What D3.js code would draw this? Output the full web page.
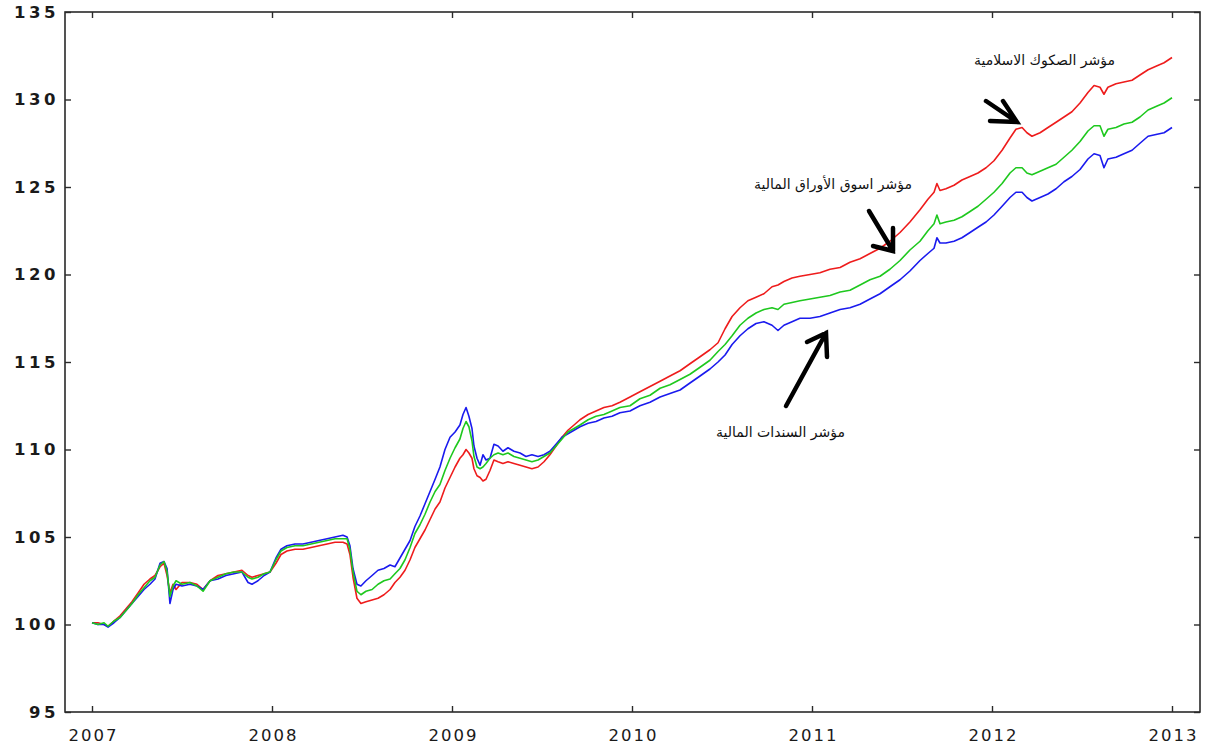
<!DOCTYPE html>
<html><head><meta charset="utf-8">
<script src="https://cdn.jsdelivr.net/npm/d3@7"></script>
<style>body{margin:0;background:#fff}svg{display:block}</style>
</head><body><svg id="c" width="1208" height="747"></svg>
<script>
// decimal years
const dates = [2007.000,2007.033,2007.067,2007.089,2007.122,2007.156,2007.189,2007.222,2007.256,2007.289,2007.322,2007.350,2007.378,2007.400,2007.417,2007.433,2007.450,2007.467,2007.500,2007.544,2007.583,2007.617,2007.656,2007.700,2007.744,2007.789,2007.833,2007.867,2007.889,2007.922,2007.956,2007.989,2008.022,2008.050,2008.083,2008.128,2008.172,2008.217,2008.261,2008.306,2008.350,2008.394,2008.417,2008.433,2008.450,2008.472,2008.494,2008.522,2008.556,2008.589,2008.622,2008.656,2008.683,2008.711,2008.739,2008.767,2008.794,2008.822,2008.850,2008.878,2008.906,2008.933,2008.961,2008.989,2009.017,2009.044,2009.061,2009.078,2009.094,2009.111,2009.122,2009.139,2009.156,2009.172,2009.189,2009.211,2009.233,2009.256,2009.283,2009.311,2009.344,2009.378,2009.411,2009.444,2009.478,2009.511,2009.544,2009.578,2009.611,2009.644,2009.678,2009.711,2009.756,2009.800,2009.844,2009.889,2009.933,2009.989,2010.044,2010.100,2010.156,2010.211,2010.267,2010.322,2010.378,2010.433,2010.478,2010.517,2010.556,2010.600,2010.644,2010.689,2010.733,2010.778,2010.811,2010.844,2010.889,2010.933,2010.989,2011.044,2011.100,2011.156,2011.211,2011.267,2011.322,2011.378,2011.433,2011.489,2011.544,2011.600,2011.644,2011.678,2011.694,2011.711,2011.744,2011.789,2011.833,2011.878,2011.922,2011.967,2012.011,2012.056,2012.100,2012.133,2012.167,2012.194,2012.222,2012.267,2012.311,2012.356,2012.400,2012.444,2012.489,2012.533,2012.567,2012.600,2012.622,2012.644,2012.689,2012.733,2012.778,2012.822,2012.867,2012.911,2012.956,2013.000];

// مؤشر الصكوك الاسلامية (red)
const sukuk = [100.1,100.1,100.0,99.9,100.2,100.5,100.9,101.3,101.8,102.3,102.6,102.8,103.3,103.5,102.8,101.8,102.3,102.0,102.4,102.4,102.3,102.0,102.5,102.8,102.9,103.0,103.1,102.8,102.7,102.8,102.9,103.0,103.5,104.0,104.2,104.3,104.3,104.4,104.5,104.6,104.7,104.7,104.6,104.0,102.7,101.5,101.2,101.3,101.4,101.5,101.7,102.0,102.4,102.7,103.1,103.7,104.4,104.9,105.4,106.0,106.6,107.0,107.8,108.4,109.0,109.5,109.7,110.0,109.8,109.5,108.9,108.5,108.4,108.2,108.3,108.8,109.4,109.3,109.2,109.3,109.2,109.1,109.0,108.9,109.0,109.3,109.7,110.2,110.7,111.1,111.4,111.7,112.0,112.2,112.4,112.5,112.7,113.0,113.3,113.6,113.9,114.2,114.5,114.9,115.3,115.7,116.1,116.9,117.6,118.1,118.5,118.7,118.9,119.3,119.4,119.6,119.8,119.9,120.0,120.1,120.3,120.4,120.7,120.9,121.2,121.5,121.9,122.4,123.0,123.7,124.3,124.7,125.2,124.8,124.9,125.1,125.4,125.6,125.8,126.1,126.5,127.1,127.8,128.3,128.4,128.1,127.9,128.1,128.4,128.7,129.0,129.3,129.8,130.4,130.8,130.7,130.3,130.7,130.9,131.0,131.1,131.4,131.7,131.9,132.1,132.4];

// مؤشر اسوق الأوراق المالية (green)
const market = [100.1,100.0,100.1,99.9,100.2,100.4,100.8,101.2,101.7,102.1,102.5,102.7,103.4,103.6,103.0,101.6,102.2,102.5,102.3,102.4,102.2,101.9,102.5,102.7,102.9,103.0,103.0,102.7,102.6,102.7,102.9,103.0,103.7,104.2,104.4,104.5,104.5,104.6,104.7,104.8,104.9,104.9,104.9,104.3,103.0,101.9,101.7,101.9,102.0,102.3,102.5,102.6,102.9,103.2,103.7,104.4,105.2,105.7,106.3,107.0,107.6,108.0,108.8,109.5,110.1,110.6,111.2,111.6,111.3,110.5,109.6,109.0,108.9,109.0,109.2,109.5,109.7,109.8,109.7,109.8,109.6,109.5,109.4,109.3,109.4,109.6,109.8,110.2,110.6,111.0,111.2,111.4,111.7,111.9,112.0,112.2,112.4,112.5,112.9,113.1,113.5,113.7,114.0,114.3,114.7,115.1,115.6,116.0,116.5,117.1,117.5,117.8,118.0,118.1,118.0,118.3,118.4,118.5,118.6,118.7,118.8,119.0,119.1,119.4,119.7,119.9,120.3,120.8,121.4,121.9,122.5,122.9,123.4,122.9,123.0,123.1,123.3,123.6,123.9,124.3,124.7,125.2,125.8,126.1,126.1,125.8,125.7,125.9,126.1,126.3,126.7,127.1,127.6,128.2,128.5,128.5,127.9,128.3,128.4,128.6,128.7,129.0,129.4,129.6,129.8,130.1];

// مؤشر السندات المالية (blue)
const bonds = [100.1,100.0,100.0,99.85,100.1,100.4,100.8,101.2,101.6,102.0,102.3,102.6,103.5,103.6,103.2,101.2,102.0,102.3,102.2,102.3,102.2,102.0,102.5,102.6,102.8,102.9,103.0,102.4,102.3,102.5,102.8,103.0,103.8,104.3,104.5,104.6,104.6,104.7,104.8,104.9,105.0,105.1,105.0,104.5,103.2,102.3,102.2,102.5,102.8,103.1,103.2,103.4,103.3,103.8,104.3,104.8,105.6,106.2,106.9,107.6,108.3,109.0,110.0,110.7,111.0,111.4,112.0,112.4,111.9,111.2,110.2,109.5,109.1,109.7,109.4,109.5,110.3,110.2,109.9,110.1,109.9,109.8,109.6,109.7,109.6,109.7,109.9,110.3,110.7,110.9,111.1,111.3,111.5,111.6,111.8,111.9,112.1,112.2,112.5,112.7,113.0,113.2,113.4,113.8,114.2,114.6,115.0,115.4,116.0,116.5,116.9,117.2,117.3,117.1,116.8,117.1,117.3,117.5,117.5,117.6,117.8,118.0,118.1,118.3,118.6,118.9,119.3,119.7,120.2,120.8,121.2,121.5,122.1,121.8,121.8,121.9,122.1,122.4,122.7,123.0,123.4,123.9,124.4,124.7,124.7,124.4,124.2,124.4,124.6,124.9,125.3,125.6,126.0,126.6,126.9,126.8,126.1,126.6,126.7,126.9,127.1,127.5,127.9,128.0,128.1,128.4];

const yearTicks = [2007,2008,2009,2010,2011,2012,2013];
const valueTicks = [95,100,105,110,115,120,125,130,135];

const labels = ["مؤشر الصكوك الاسلامية","مؤشر اسوق الأوراق المالية","مؤشر السندات المالية"];
const colors = {sukuk:"#ee1c1c", market:"#1ec81e", bonds:"#1a1aee"};

const svg = d3.select("#c");
const L=65, R=1200, T=12, B=712;
const x = d3.scaleLinear().domain([2007,2013]).range([92,1172]);
const y = d3.scaleLinear().domain([95,135]).range([B,T]);

// lines
const line = d3.line().x((d,i)=>x(dates[i])).y(d=>y(d));
[["sukuk",sukuk],["bonds",bonds],["market",market]].forEach(([k,arr])=>{
  svg.append("path").datum(arr).attr("d",line)
    .attr("fill","none").attr("stroke",colors[k]).attr("stroke-width",1.6)
    .attr("stroke-linejoin","round");
});

// frame
svg.append("rect").attr("x",L).attr("y",T).attr("width",R-L).attr("height",B-T)
  .attr("fill","none").attr("stroke","#2a2a2a").attr("stroke-width",1.6);

// axes with inward ticks
const axB = d3.axisBottom(x).tickValues(yearTicks).tickSize(-6).tickPadding(14).tickFormat(d3.format("d"));
const gB = svg.append("g").attr("transform",`translate(0,${B})`).call(axB);
const axT = d3.axisTop(x).tickValues(yearTicks).tickSize(-6).tickFormat("");
const gT = svg.append("g").attr("transform",`translate(0,${T})`).call(axT);
const axL = d3.axisLeft(y).tickValues(valueTicks).tickSize(-6).tickPadding(14);
const gL = svg.append("g").attr("transform",`translate(${L},0)`).call(axL);
const axR = d3.axisRight(y).tickValues(valueTicks).tickSize(-6).tickFormat("");
const gR = svg.append("g").attr("transform",`translate(${R},0)`).call(axR);
[gB,gT,gL,gR].forEach(g=>{
  g.select(".domain").remove();
  g.selectAll(".tick line").attr("stroke","#2a2a2a").attr("stroke-width",1.4);
});
gB.selectAll("text").attr("font-family","DejaVu Sans").attr("font-size",16.5)
  .attr("letter-spacing","2px").attr("fill","#1a1a1a").attr("dy","0.9em").attr("dx","1px");
gL.selectAll("text").attr("font-family","DejaVu Sans").attr("font-size",16.5).attr("font-weight","bold")
  .attr("letter-spacing","3.5px").attr("fill","#1a1a1a").attr("x",-6);

// annotations
const ann = [
  {t:labels[0], x:1115, y:65},
  {t:labels[1], x:912, y:189},
  {t:labels[2], x:845, y:437}
];
svg.selectAll("text.ann").data(ann).join("text").attr("class","ann")
  .attr("x",d=>d.x).attr("y",d=>d.y).attr("text-anchor","start").attr("direction","rtl")
  .attr("font-family","DejaVu Sans").attr("font-size",14)
  .attr("fill","#111").text(d=>d.t);

// arrows (tail -> head, barbs)
const arrows = [
  {x1:986,y1:101,x2:1017,y2:122,b1:[990,121],b2:[1003,101]},
  {x1:869,y1:211,x2:893,y2:251,b1:[873,246],b2:[893,228]},
  {x1:786,y1:406,x2:826,y2:333,b1:[807,342],b2:[827,357]}
];
arrows.forEach(a=>{
  const p = d3.path();
  p.moveTo(a.x1,a.y1); p.lineTo(a.x2,a.y2);
  p.moveTo(a.b1[0],a.b1[1]); p.lineTo(a.x2,a.y2); p.lineTo(a.b2[0],a.b2[1]);
  svg.append("path").attr("d",p.toString()).attr("fill","none").attr("stroke","#000")
    .attr("stroke-width",4.5).attr("stroke-linecap","round").attr("stroke-linejoin","miter");
});
</script></body></html>
